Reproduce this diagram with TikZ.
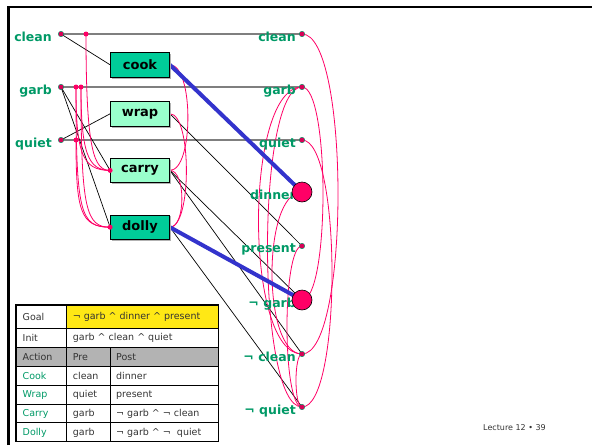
\documentclass[tikz,border=0pt]{standalone}
\usepackage{fontspec}
\setmainfont{DejaVu Sans}
\usetikzlibrary{shadows}
\definecolor{lit}{HTML}{009966}
\definecolor{mutex}{HTML}{FF0066}
\definecolor{actdark}{HTML}{00CC99}
\definecolor{actlight}{HTML}{99FFCC}
\definecolor{noop}{HTML}{7F7F7F}
\definecolor{strong}{HTML}{3333CC}
\definecolor{goalfill}{HTML}{FFE815}
\definecolor{headfill}{HTML}{B3B3B3}
\definecolor{ink}{HTML}{333333}
\newcommand{\conj}{\textasciicircum}

\begin{document}
\begin{tikzpicture}[x=1pt,y=-1pt,
  lbl/.style={text=lit,font=\fontsize{12.5}{14}\selectfont\bfseries,anchor=base east,inner sep=0pt},
  act/.style={draw=black,line width=0.8pt,minimum width=59pt,minimum height=24.5pt,inner sep=0pt,
    font=\fontsize{13}{15}\selectfont\bfseries,
    drop shadow={shadow xshift=1.5pt,shadow yshift=-1.5pt,fill=gray!60,opacity=1}},
  litdot/.style={circle,fill=mutex!85!black,draw=lit,line width=0.4pt,inner sep=0pt,minimum size=5.5pt},
  mdot/.style={circle,fill=mutex,inner sep=0pt,minimum size=5pt},
  bigdot/.style={circle,draw=black,line width=0.6pt,fill=mutex,inner sep=0pt,minimum size=20pt},
  nooplink/.style={draw=noop,line width=1.5pt},
  thin/.style={draw=black,line width=0.7pt},
  heavy/.style={draw=strong,line width=4pt},
  mx/.style={draw=mutex,line width=0.8pt},
  cell/.style={font=\fontsize{9.5}{11}\selectfont,text=ink,anchor=west,inner sep=0pt},
  grid/.style={draw=black,line width=0.8pt}
]
\useasboundingbox (0,0) rectangle (592,445);

% slide frame
\draw[line width=2.5pt] (8.3,445) -- (8.3,7) -- (592,7);

% level 0 literals
\coordinate (Lclean) at (61,34);
\coordinate (Lgarb)  at (61,87);
\coordinate (Lquiet) at (61,140);
% level 1 literals
\coordinate (Rclean)   at (302,34);
\coordinate (Rgarb)    at (302,87);
\coordinate (Rquiet)   at (302,140);
\coordinate (Rdinner)  at (302,192);
\coordinate (Rpresent) at (302,246);
\coordinate (Rngarb)   at (302,300);
\coordinate (Rnclean)  at (302,354);
\coordinate (Rnquiet)  at (302,407);
% mutex marks on the persistence links
\coordinate (mc)  at (86,34);
\coordinate (mg1) at (76,87);
\coordinate (mg2) at (81,87);
\coordinate (mq)  at (76,140);

% persistence (no-op) links
\draw[nooplink] (Lclean) -- (Rclean);
\draw[nooplink] (Lgarb) -- (Rgarb);
\draw[nooplink] (Lquiet) -- (Rquiet);

% actions
\node[act,fill=actdark]  (cook)  at (140,64.8)  {cook};
\node[act,fill=actlight] (wrap)  at (140,113.8) {wrap};
\node[act,fill=actlight] (carry) at (140,170.4) {carry};
\node[act,fill=actdark]  (dolly) at (140,227.2) {dolly};

% preconditions
\draw[thin] (Lclean) -- (cook.west);
\draw[thin] (Lquiet) -- (wrap.west);
\draw[thin] (Lgarb) -- (carry.west);
\draw[thin] (Lgarb) -- (dolly.west);

% effects
\draw[thin] (wrap.east) -- (Rpresent);
\draw[thin] (carry.east) -- (Rngarb);
\draw[thin] (carry.east) -- (Rnclean);
\draw[thin] (dolly.east) -- (Rnquiet);

% action mutexes, left side
\draw[mx] (mc)  .. controls +(0,118) and +(-16,0) .. (carry.west);
\draw[mx] (mg2) .. controls +(0,66) and +(-22,0) .. (carry.west);
\draw[mx] (mg1) .. controls +(0,66) and +(-28,0) .. (carry.west);
\draw[mx] (mg2) .. controls +(0,122) and +(-24,0) .. (dolly.west);
\draw[mx] (mg1) .. controls +(0,126) and +(-30,0) .. (dolly.west);
\draw[mx] (mq)  .. controls +(0,70) and +(-30,0) .. (dolly.west);

% action mutexes, right side
\draw[mx] (cook.east)  .. controls +(24,0) and +(24,0) .. (carry.east);
\draw[mx] (wrap.east)  .. controls +(22,0) and +(22,0) .. (dolly.east);
\draw[mx] (carry.east) .. controls +(16,0) and +(16,0) .. (dolly.east);

% literal mutexes at level 1
\draw[mx] (Rclean)   .. controls +(48,0) and +(48,0) .. (Rnclean);
\draw[mx] (Rquiet)   .. controls +(40,0) and +(40,0) .. (Rnquiet);
\draw[mx] (Rgarb)    .. controls +(28,0) and +(28,0) .. (Rngarb);
\draw[mx] (Rgarb)    .. controls +(-58,0) and +(-58,0) .. (Rnclean);
\draw[mx] (Rgarb)    .. controls +(-46,0) and +(-46,0) .. (Rnquiet);
\draw[mx] (Rdinner)  .. controls +(-40,0) and +(-40,0) .. (Rnclean);
\draw[mx] (Rpresent) .. controls +(-20,0) and +(-20,0) .. (Rnquiet);
\draw[mx] (Rnclean)  .. controls +(-8,0) and +(-8,0) .. (Rnquiet);

% supporting links to the goal literals
\draw[heavy] (cook.east) -- (Rdinner);
\draw[heavy] (dolly.east) -- (Rngarb);

% redraw action boxes above the links
\node[act,fill=actdark]  at (cook)  {cook};
\node[act,fill=actlight] at (wrap)  {wrap};
\node[act,fill=actlight] at (carry) {carry};
\node[act,fill=actdark]  at (dolly) {dolly};

% labels
\node[lbl] (tclean) at (52,41.5)  {clean};
\node[lbl] (tgarb)  at (52,94.5)  {garb};
\node[lbl] (tquiet) at (52,147.5) {quiet};
\node[lbl] (uclean)   at (296,41.5)  {clean};
\node[lbl] (ugarb)    at (296,94.5)  {garb};
\node[lbl] (uquiet)   at (296,147.5) {quiet};
\node[lbl] (udinner)  at (296,199.5) {dinner};
\node[lbl] (upresent) at (296,252.5) {present};
\node[lbl] (ungarb)   at (296,307.5) {¬ garb};
\node[lbl] (unclean)  at (296,361.5) {¬ clean};
\node[lbl] (unquiet)  at (296,414.5) {¬ quiet};

% dots
\node[litdot] at (Lclean) {};
\node[litdot] at (Lgarb) {};
\node[litdot] at (Lquiet) {};
\node[litdot] at (Rclean) {};
\node[litdot] at (Rgarb) {};
\node[litdot] at (Rquiet) {};
\node[litdot] at (Rpresent) {};
\node[litdot] at (Rnclean) {};
\node[litdot] at (Rnquiet) {};
\node[mdot] at (mc) {};
\node[mdot] at (mg1) {};
\node[mdot] at (mg2) {};
\node[mdot] at (mq) {};
\node[mdot] at (carry.west) {};
\node[mdot] at (dolly.west) {};
\node[bigdot] at (Rdinner) {};
\node[bigdot] at (Rngarb) {};

% problem table
\fill[goalfill] (66.7,305) rectangle (218.3,328.3);
\fill[headfill] (16,347.3) rectangle (218.3,366.3);
\draw[grid] (16,328.3) -- (218.3,328.3);
\draw[grid] (16,347.3) -- (218.3,347.3);
\draw[grid] (16,366.3) -- (218.3,366.3);
\draw[grid] (16,385) -- (218.3,385);
\draw[grid] (16,404.3) -- (218.3,404.3);
\draw[grid] (16,422.7) -- (218.3,422.7);
\draw[grid] (66.7,305) -- (66.7,441.7);
\draw[grid] (110,347.3) -- (110,441.7);
\draw[line width=1.5pt] (16,305) rectangle (218.3,441.7);

\node[cell] at (22.5,317.2) {Goal};
\node[cell] at (72.7,317.2) {¬ garb \conj{} dinner \conj{} present};
\node[cell] at (22.5,338.2) {Init};
\node[cell] at (72.7,338.2) {garb \conj{} clean \conj{} quiet};
\node[cell] at (22.5,357.2) {Action};
\node[cell] at (72.7,357.2) {Pre};
\node[cell] at (116,357.2) {Post};
\node[cell,text=lit] at (22.5,376) {Cook};
\node[cell] at (72.7,376) {clean};
\node[cell] at (116,376) {dinner};
\node[cell,text=lit] at (22.5,395) {Wrap};
\node[cell] at (72.7,395) {quiet};
\node[cell] at (116,395) {present};
\node[cell,text=lit] at (22.5,413.9) {Carry};
\node[cell] at (72.7,413.9) {garb};
\node[cell] at (116,413.9) {¬ garb \conj{} ¬ clean};
\node[cell,text=lit] at (22.5,432.6) {Dolly};
\node[cell] at (72.7,432.6) {garb};
\node[cell] at (116,432.6) {¬ garb \conj{} ¬~ quiet};

% footer
\node[font=\fontsize{8}{9}\selectfont,text=ink,inner sep=0pt] (footer) at (514.5,428) {Lecture 12 • 39};
\end{tikzpicture}
\end{document}
